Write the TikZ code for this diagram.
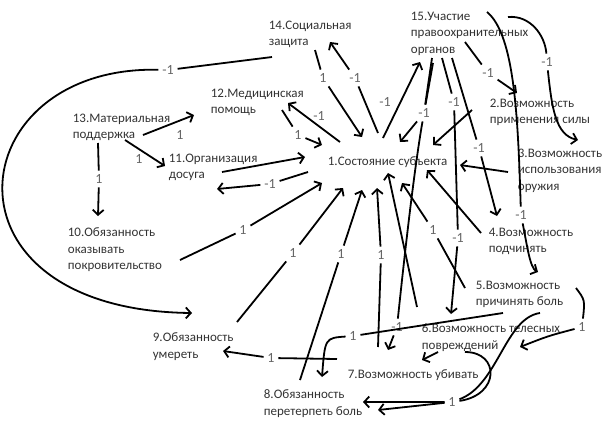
\documentclass[tikz,border=0pt]{standalone}
\usepackage{fontspec}
\setmainfont{Carlito}
\usetikzlibrary{arrows.meta}

\begin{document}
\begin{tikzpicture}[x=1pt,y=-1pt,line width=1.8pt,
		box/.style={anchor=north west,align=left,inner sep=0pt,text=black!80,font=\fontsize{13}{16.5}\selectfont},
		lbl/.style={inner sep=3pt,text=black!60,font=\fontsize{14}{16}\selectfont},
		arr/.style={-{Straight Barb[length=5pt,width=11pt]}}]

	\useasboundingbox (0,0) rectangle (608,421);

	% concepts
	\node[box] (K1) at (327,156) {1.Состояние субъекта};
	\node[box] (K2) at (489,98) {2.Возможность\\применения силы};
	\node[box] (K3) at (517,148) {3.Возможность\\использования\\оружия};
	\node[box] (K4) at (488,227) {4.Возможность\\подчинять};
	\node[box] (K5) at (475,280) {5.Возможность\\причинять боль};
	\node[box] (K6) at (421,323) {6.Возможность телесных\\повреждений};
	\node[box] (K7) at (347,369) {7.Возможность убивать};
	\node[box] (K8) at (263,389) {8.Обязанность\\перетерпеть боль};
	\node[box] (K9) at (152,332) {9.Обязанность\\умереть};
	\node[box] (K10) at (67,227) {10.Обязанность\\оказывать\\покровительство};
	\node[box] (K11) at (168,153) {11.Организация\\досуга};
	\node[box] (K12) at (210,88) {12.Медицинская\\помощь};
	\node[box] (K13) at (72,113) {13.Материальная\\поддержка};
	\node[box] (K14) at (268,20) {14.Социальная\\защита};
	\node[box] (K15) at (410,11) {15.Участие\\правоохранительных\\органов};

	% weights
	\node[lbl] (W1) at (180,135) {1};
	\node[lbl] (W2) at (139,159) {1};
	\node[lbl] (W3) at (99,179) {1};
	\node[lbl] (W4) at (168,70) {-1};
	\node[lbl] (W5) at (270,184) {-1};
	\node[lbl] (W6) at (298,135) {1};
	\node[lbl] (W7) at (319,116) {-1};
	\node[lbl] (W8) at (323,78) {1};
	\node[lbl] (W9) at (355,78) {-1};
	\node[lbl] (W10) at (385,102) {-1};
	\node[lbl] (W11) at (424,113) {-1};
	\node[lbl] (W12) at (397,327) {-1};
	\node[lbl] (W13) at (454,102) {-1};
	\node[lbl] (W14) at (458,238) {-1};
	\node[lbl] (W15) at (479,148) {-1};
	\node[lbl] (W16) at (488,73) {-1};
	\node[lbl] (W17) at (521,215) {-1};
	\node[lbl] (W18) at (547,62) {-1};
	\node[lbl] (W19) at (433,230) {1};
	\node[lbl] (W20) at (381,255) {1};
	\node[lbl] (W21) at (341,254) {1};
	\node[lbl] (W22) at (293,253) {1};
	\node[lbl] (W23) at (243,230) {1};
	\node[lbl] (W24) at (271,358) {1};
	\node[lbl] (W25) at (353,336) {1};
	\node[lbl] (W26) at (582,327) {1};
	\node[lbl] (W27) at (452,402) {1};

	% left part
	\draw[arr] ([shift={(71,22)}]K13.north west) -- ([shift={(-16,27)}]K12.north west);
	\draw[arr] ([shift={(53,27)}]K13.north west) -- ([shift={(-3,13)}]K11.north west);
	\draw[arr] ([shift={(26,30)}]K13.north west) -- (W3) -- ([shift={(31,-11)}]K10.north west);
	\draw[arr] ([shift={(4,37)}]K14.north west) -- (W4) .. controls (-40,65) and (-70,310) .. ([shift={(40,-19)}]K9.north west);
	\draw[arr] ([shift={(54,19)}]K11.north west) -- ([shift={(-22,1)}]K1.north west);
	\draw[arr] ([shift={(-19,16)}]K1.north west) -- (W5) -- ([shift={(49,36)}]K11.north west);
	\draw[arr] ([shift={(72,22)}]K12.north west) -- (W6) -- ([shift={(-5,-11)}]K1.north west);
	\draw[arr] ([shift={(13,-14)}]K1.north west) -- ([shift={(78,15)}]K12.north west);
	\draw[arr] ([shift={(47,30)}]K14.north west) -- (W8) -- ([shift={(35,-19)}]K1.north west);
	\draw[arr] ([shift={(51,-23)}]K1.north west) -- (W9) -- ([shift={(62,22)}]K14.north west);

	% from 15
	\draw[arr] ([shift={(56,-18)}]K1.north west) -- ([shift={(10,51)}]K15.north west);
	\draw[arr] ([shift={(23,52)}]K15.north west) -- (W11) -- ([shift={(73,-14)}]K1.north west);
	\draw[arr] ([shift={(22,47)}]K15.north west) -- (W11) .. controls (414,170) and (404,260) .. (W12) -- ([shift={(41,-19)}]K7.north west);
	\draw[arr] ([shift={(32,47)}]K15.north west) -- (W13) -- (W14) -- ([shift={(30,-9)}]K6.north west);
	\draw[arr] ([shift={(42,47)}]K15.north west) -- (W15) -- ([shift={(9,-11)}]K4.north west);
	\draw[arr] ([shift={(55,31)}]K15.north west) -- (W16) -- ([shift={(28,-5)}]K2.north west);
	\draw[arr] ([shift={(77,1)}]K15.north west) .. controls (515,35) and (518,120) .. (W17) .. controls (527,245) and (530,268) .. ([shift={(63,-8)}]K5.north west);
	\draw[arr] ([shift={(98,6)}]K15.north west) .. controls (530,15) and (545,35) .. (W18) .. controls (552,110) and (556,135) .. ([shift={(61,-8)}]K3.north west);

	% into 1
	\draw[arr] ([shift={(-17,12)}]K2.north west) -- ([shift={(106,-11)}]K1.north west);
	\draw[arr] ([shift={(-9,24)}]K3.north west) -- ([shift={(133,9)}]K1.north west);
	\draw[arr] ([shift={(-7,6)}]K4.north west) -- ([shift={(100,14)}]K1.north west);
	\draw[arr] ([shift={(-10,8)}]K5.north west) -- (W19) -- ([shift={(75,27)}]K1.north west);
	\draw[arr] ([shift={(-4,-16)}]K6.north west) -- ([shift={(61,17)}]K1.north west);
	\draw[arr] ([shift={(31,-22)}]K7.north west) -- (W20) -- ([shift={(50,32)}]K1.north west);
	\draw[arr] ([shift={(37,-9)}]K8.north west) -- (W21) -- ([shift={(35,34)}]K1.north west);
	\draw[arr] ([shift={(85,-10)}]K9.north west) -- (W22) -- ([shift={(16,32)}]K1.north west);
	\draw[arr] ([shift={(113,33)}]K10.north west) -- (W23) -- ([shift={(-5,27)}]K1.north west);

	% bottom
	\draw[arr] ([shift={(-10,-10)}]K7.north west) -- (W24) -- ([shift={(71,19)}]K9.north west);
	\draw[arr] ([shift={(28,33)}]K5.north west) -- (W25) .. controls (325,338) .. ([shift={(59,-12)}]K8.north west);
	\draw[arr] ([shift={(101,8)}]K5.north west) .. controls (585,300) .. (W26) .. controls (548,336) .. ([shift={(99,24)}]K6.north west);
	\draw[arr] ([shift={(65,33)}]K5.north west) .. controls (505,318) and (498,385) .. (W27) -- ([shift={(100,13)}]K8.north west);
	\draw[arr] ([shift={(44,29)}]K6.north west) .. controls (500,352) and (500,395) .. (W27) -- ([shift={(115,21)}]K8.north west);
	\draw[arr] ([shift={(17,29)}]K6.north west) -- ([shift={(75,-9)}]K7.north west);
\end{tikzpicture}
\end{document}
